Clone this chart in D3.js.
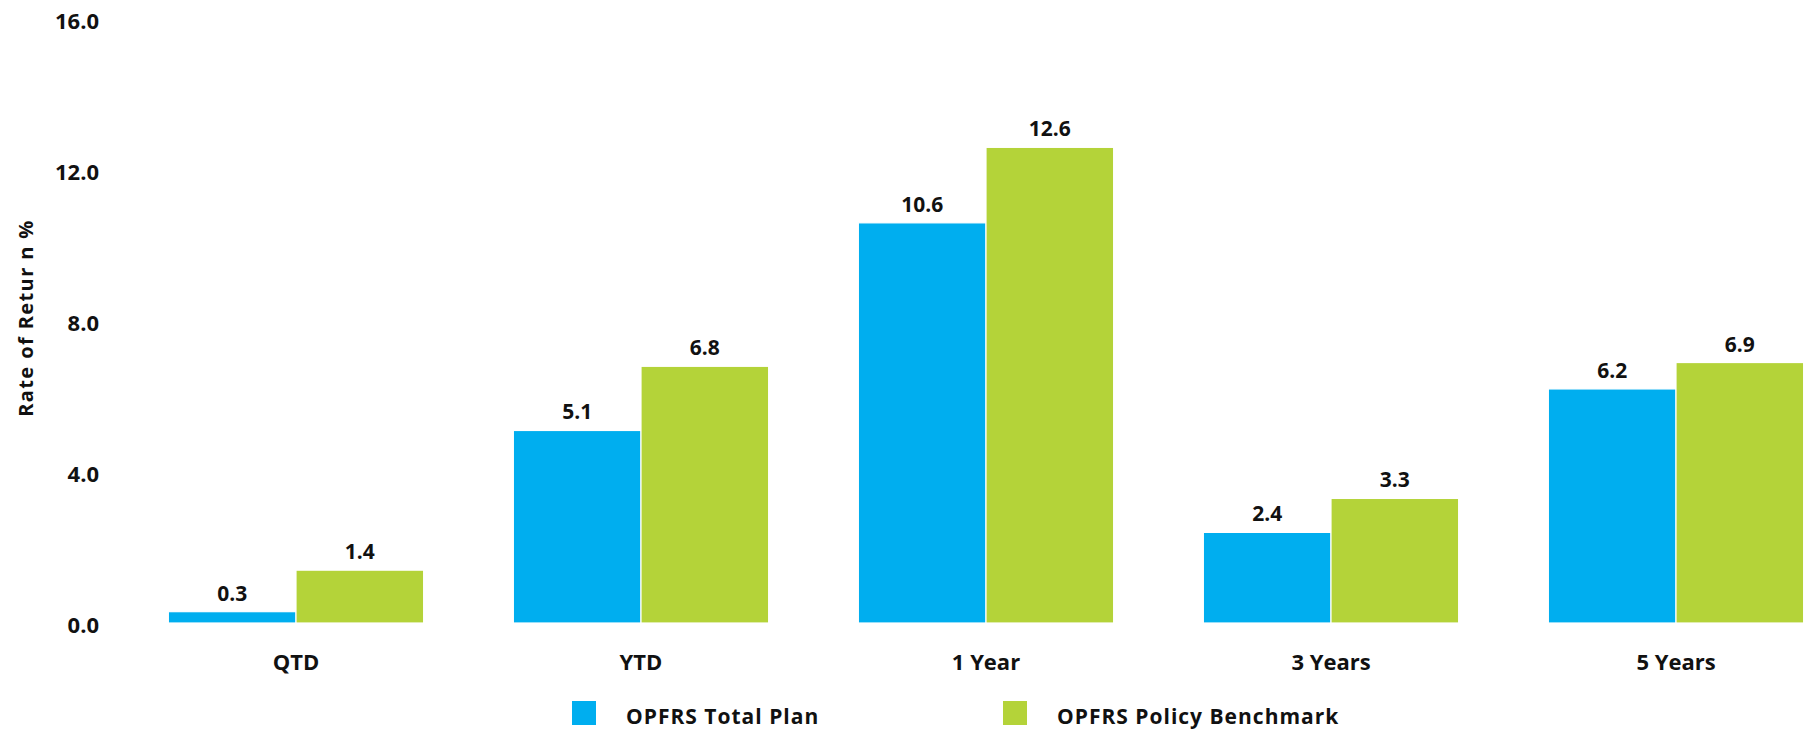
<!DOCTYPE html>
<html>
<head>
<meta charset="utf-8">
<script src="https://cdn.jsdelivr.net/npm/d3@7"></script>
<style>
  body { margin: 0; background: #fff; }
  text { font-family: "Open Sans", sans-serif; font-weight: 700; fill: #111; }
</style>
</head>
<body>
<div id="chart"></div>
<script>
// 数据
var periods = ["QTD", "YTD", "1 Year", "3 Years", "5 Years"];
var seriesNames = ["OPFRS Total Plan", "OPFRS Policy Benchmark"];
var totalPlan = [0.3, 5.1, 10.6, 2.4, 6.2];
var benchmark = [1.4, 6.8, 12.6, 3.3, 6.9];
var yTicks = [0, 4, 8, 12, 16];
var colors = ["#00AEEF", "#B4D339"];

drawchart()

function drawchart() {
	var W = 1805, H = 730;

	var svg = d3.select("#chart")
		.append("svg")
		.attr("width", W)
		.attr("height", H);

	// 比例尺
	var x = d3.scaleBand()
		.domain(periods)
		.range([123.5, 1848.5])
		.paddingInner(0.26)
		.paddingOuter(0.13);

	var xSub = d3.scaleBand()
		.domain(seriesNames)
		.range([0, x.bandwidth()]);

	var y = d3.scaleLinear()
		.domain([0, 16])
		.range([623, 19]);

	// y 轴刻度
	svg.append("g")
		.selectAll("text")
		.data(yTicks)
		.join("text")
		.attr("x", 99)
		.attr("y", d => y(d) + 1)
		.attr("text-anchor", "end")
		.attr("dominant-baseline", "central")
		.style("font-size", "22px")
		.text(d => d3.format(".1f")(d));

	// y 轴标题
	svg.append("text")
		.attr("transform", "translate(33,318) rotate(-90)")
		.attr("text-anchor", "middle")
		.style("font-size", "20px")
		.style("letter-spacing", "1.4px")
		.text("Rate of Retur n %");

	var rows = periods.map((p, i) => ({ period: p, values: [totalPlan[i], benchmark[i]] }));

	var groups = svg.append("g")
		.selectAll("g")
		.data(rows)
		.join("g")
		.attr("transform", d => `translate(${x(d.period)},0)`);

	var cells = groups.selectAll("g")
		.data(d => d.values.map((v, k) => ({ name: seriesNames[k], value: v, k: k })))
		.join("g");

	cells.append("rect")
		.attr("x", d => xSub(d.name))
		.attr("y", d => y(d.value))
		.attr("width", xSub.bandwidth())
		.attr("height", d => y(0) - y(d.value))
		.attr("fill", d => colors[d.k])
		.attr("stroke", "#fff")
		.attr("stroke-width", 1.2);

	cells.append("text")
		.attr("x", d => xSub(d.name) + xSub.bandwidth() / 2)
		.attr("y", d => y(d.value) - 11)
		.attr("text-anchor", "middle")
		.style("font-size", "21px")
		.text(d => d3.format(".1f")(d.value));

	// 类别标签
	svg.append("g")
		.selectAll("text")
		.data(periods)
		.join("text")
		.attr("x", d => x(d) + x.bandwidth() / 2)
		.attr("y", 670)
		.attr("text-anchor", "middle")
		.style("font-size", "22px")
		.text(d => d);

	// 图例
	var legendX = [572, 1003];
	var legend = svg.append("g")
		.selectAll("g")
		.data(seriesNames)
		.join("g")
		.attr("transform", (d, i) => `translate(${legendX[i]},701)`);

	legend.append("rect")
		.attr("width", 24)
		.attr("height", 24)
		.attr("fill", (d, i) => colors[i]);

	legend.append("text")
		.attr("x", 54)
		.attr("y", 23)
		.style("font-size", "21px")
		.style("letter-spacing", "1px")
		.text(d => d);
}
</script>
</body>
</html>
